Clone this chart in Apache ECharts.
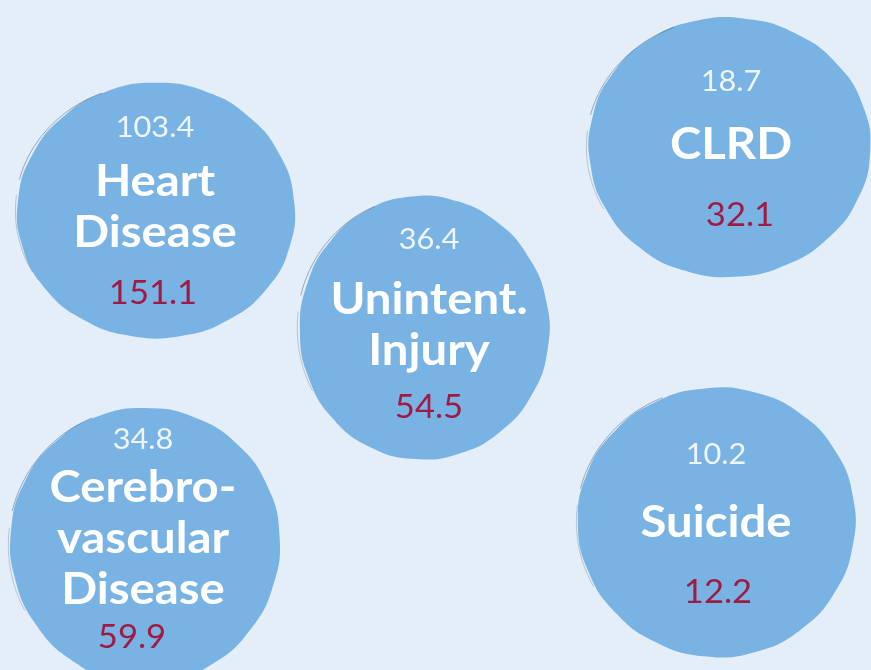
<!DOCTYPE html>
<html>
<head>
<meta charset="utf-8">
<script src="https://cdn.jsdelivr.net/npm/echarts@6/dist/echarts.min.js"></script>
<style>
  html, body { margin: 0; padding: 0; background: #e4eef8; }
  #chart { width: 871px; height: 670px; }
</style>
</head>
<body>
<div id="chart"></div>
<script>
// ---- data ----
const causes = ['Heart Disease', 'Unintent. Injury', 'CLRD', 'Cerebrovascular Disease', 'Suicide'];
const labelLines = ['Heart\nDisease', 'Unintent.\nInjury', 'CLRD', 'Cerebro-\nvascular\nDisease', 'Suicide'];
const topValues = [103.4, 36.4, 18.7, 34.8, 10.2];
const bottomValues = [151.1, 54.5, 32.1, 59.9, 12.2];

// ---- layout (positions / sizes, in a 871 x 670 canvas space) ----
const layout = [
  { cx: 156, cy: 211, rx: 139, ry: 128, tx: -1, top: -83, mid: -3, bot: 83, bx: -3 },
  { cx: 424, cy: 328, rx: 125, ry: 132, tx: 5, top: -88, mid: -2, bot: 80, bx: 5 },
  { cx: 729, cy: 147, rx: 141, ry: 130, tx: 2, top: -65, mid: -2, bot: 69, bx: 11 },
  { cx: 145, cy: 545, rx: 135, ry: 138, tx: -2, top: -105, mid: -6, bot: 93, bx: -13 },
  { cx: 717, cy: 522, rx: 139, ry: 135, tx: -1, top: -67, mid: 1, bot: 71, bx: 1 }
];

const FILL = '#79b3e3';
const FONT = 'Lato, "Open Sans", sans-serif';

const seriesData = causes.map((c, i) => ({ name: c, value: [layout[i].cx, layout[i].cy, i] }));

function renderItem(params, api) {
  const i = api.value(2);
  const L = layout[i];
  const p = api.coord([api.value(0), api.value(1)]);
  const pts = [];
  const N = 180;
  for (let k = 0; k < N; k++) {
    const a = (k / N) * Math.PI * 2;
    const f = 1 + 0.005 * Math.sin(3 * a + i) + 0.003 * Math.sin(17 * a + 2 * i);
    pts.push([p[0] + Math.cos(a) * L.rx * f, p[1] + Math.sin(a) * L.ry * f]);
  }
  const trail = [];
  for (let k = 0; k <= 30; k++) {
    const a = Math.PI * (1.08 + 0.30 * k / 30);
    trail.push([p[0] - 4 + Math.cos(a) * L.rx * 0.985, p[1] + Math.sin(a) * L.ry * 0.99]);
  }
  const trail2 = [];
  for (let k = 0; k <= 20; k++) {
    const a = Math.PI * (0.84 + 0.20 * k / 20);
    trail2.push([p[0] - 3 + Math.cos(a) * L.rx * 0.99, p[1] + Math.sin(a) * L.ry * 0.99]);
  }
  return {
    type: 'group',
    children: [
      { type: 'polygon', shape: { points: pts }, style: { fill: FILL } },
      { type: 'polyline', shape: { points: trail }, style: { fill: null, stroke: 'rgba(70,95,130,0.5)', lineWidth: 1 } },
      { type: 'polyline', shape: { points: trail2 }, style: { fill: null, stroke: 'rgba(70,95,130,0.3)', lineWidth: 1 } },
      {
        type: 'text', x: p[0] + L.tx, y: p[1] + L.top, scaleX: 1.06,
        style: {
          text: String(topValues[i]), fill: '#eef5fc',
          font: 'normal 29px ' + FONT, align: 'center', verticalAlign: 'middle'
        }
      },
      {
        type: 'text', x: p[0] + L.tx, y: p[1] + L.mid, scaleX: 1.1,
        style: {
          text: labelLines[i], fill: '#ffffff',
          font: 'bold 43px ' + FONT, lineHeight: 51, align: 'center', verticalAlign: 'middle'
        }
      },
      {
        type: 'text', x: p[0] + L.bx, y: p[1] + L.bot, scaleX: 1.08,
        style: {
          text: String(bottomValues[i]), fill: '#a11a44',
          font: '32px ' + FONT, align: 'center', verticalAlign: 'middle'
        }
      }
    ]
  };
}

const chart = echarts.init(document.getElementById('chart'), null, { renderer: 'canvas' });
chart.setOption({
  backgroundColor: '#e4eef8',
  animation: false,
  grid: { left: 0, right: 0, top: 0, bottom: 0 },
  xAxis: { type: 'value', min: 0, max: 871, show: false },
  yAxis: { type: 'value', min: 0, max: 670, inverse: true, show: false },
  series: [{
    type: 'custom',
    renderItem: renderItem,
    data: seriesData,
    clip: false
  }]
});
</script>
</body>
</html>
